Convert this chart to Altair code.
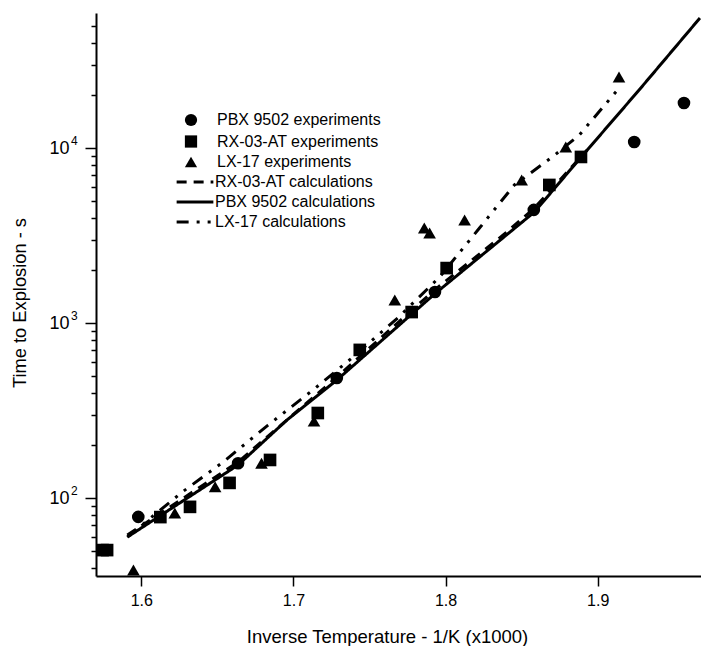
import altair as alt
import pandas as pd

# ---- experiments (points) ----
pbx_exp_x = [1.598, 1.6636, 1.7285, 1.793, 1.858, 1.924, 1.9567]
pbx_exp_y = [78, 158, 485, 1503, 4430, 10820, 18070]

rx_exp_x = [1.5745, 1.5775, 1.6125, 1.632, 1.658, 1.6846, 1.716, 1.7436, 1.7777, 1.8007, 1.8682, 1.889]
rx_exp_y = [50.4, 50.4, 77.8, 89, 122, 165, 306, 702, 1155, 2060, 6150, 8890]

lx_exp_x = [1.5948, 1.622, 1.6485, 1.679, 1.7135, 1.7666, 1.786, 1.7895, 1.8125, 1.850, 1.879, 1.914]
lx_exp_y = [38.8, 82, 116, 158, 275, 1352, 3490, 3265, 3880, 6560, 10140, 25470]

# ---- calculations (lines) ----
rx_calc_x = [1.5908, 1.6636, 1.7285, 1.7928, 1.8387, 1.8584, 1.8931]
rx_calc_y = [61.4, 160.6, 491, 1544, 3226, 4540, 9740]

pbx_calc_x = [1.5908, 1.6636, 1.6957, 1.7285, 1.7928, 1.8584, 1.8892, 1.9272, 1.9672]
pbx_calc_y = [59.8, 154.4, 279, 472, 1466, 4307, 8890, 21450, 55300]

lx_calc_x = [1.5908, 1.6269, 1.6538, 1.6833, 1.7128, 1.7384, 1.7685, 1.7961, 1.8223, 1.8452, 1.8702, 1.8879, 1.9141]
lx_calc_y = [59.8, 108.2, 160.6, 261, 414, 631, 1068, 1832, 3490, 6150, 8890, 11860, 22000]

exp_names = ["PBX 9502 experiments", "RX-03-AT experiments", "LX-17 experiments"]
calc_names = ["RX-03-AT calculations", "PBX 9502 calculations", "LX-17 calculations"]

y_ticks = [40, 50, 60, 70, 80, 90, 100, 200, 300, 400, 500, 600, 700, 800, 900,
           1000, 2000, 3000, 4000, 5000, 6000, 7000, 8000, 9000, 10000,
           20000, 30000, 40000, 50000]
y_major = [100, 1000, 10000]
y_exponents = ["2", "3", "4"]
x_ticks = [1.6, 1.7, 1.8, 1.9]

pts = pd.concat([
    pd.DataFrame({"x": pbx_exp_x, "y": pbx_exp_y, "series": exp_names[0]}),
    pd.DataFrame({"x": rx_exp_x, "y": rx_exp_y, "series": exp_names[1]}),
    pd.DataFrame({"x": lx_exp_x, "y": lx_exp_y, "series": exp_names[2]}),
])
lines = pd.concat([
    pd.DataFrame({"x": rx_calc_x, "y": rx_calc_y, "series": calc_names[0]}),
    pd.DataFrame({"x": pbx_calc_x, "y": pbx_calc_y, "series": calc_names[1]}),
    pd.DataFrame({"x": lx_calc_x, "y": lx_calc_y, "series": calc_names[2]}),
])
expo = pd.DataFrame({"y": y_major, "e": y_exponents})

FONT = "Liberation Sans"
major = "datum.value == 100 || datum.value == 1000 || datum.value == 10000"

xscale = alt.Scale(domain=[1.5702, 1.9679], nice=False, zero=False)
yscale = alt.Scale(type="log", domain=[35.84, 59080], nice=False)

xenc = alt.X("x:Q", scale=xscale, axis=alt.Axis(
    values=x_ticks, format=".1f", title="Inverse Temperature - 1/K (x1000)",
    grid=False, domainColor="black", domainWidth=2, tickColor="black", tickWidth=1.5,
    tickSize=10, labelFontSize=16, labelFont=FONT, labelColor="black", labelPadding=6,
    titleFont=FONT, titleFontSize=18.5, titleFontWeight="normal", titleColor="black",
    titleX=291, titleY=66, titleBaseline="alphabetic", titleAnchor="middle",
    labelFlush=False))
yenc = alt.Y("y:Q", scale=yscale, axis=alt.Axis(
    values=y_ticks,
    labelExpr="(datum.value == 100 || datum.value == 1000 || datum.value == 10000) ? '10' : ''",
    title="Time to Explosion - s", grid=False, domainColor="black", domainWidth=2,
    tickColor="black", tickWidth=1.5,
    tickSize={"condition": {"test": major, "value": 11}, "value": 5},
    labelFontSize=18, labelFont=FONT, labelColor="black", labelPadding=16, labelOverlap=False,
    labelFlush=False,
    titleFont=FONT, titleFontSize=18.3, titleFontWeight="normal", titleColor="black",
    titleX=-71, titleY=289.5, titleBaseline="alphabetic", titleAngle=270, titleAnchor="middle"))

points = alt.Chart(pts).mark_point(filled=True, color="black", opacity=1, clip=True, size=160).encode(
    x=xenc, y=yenc,
    shape=alt.Shape("series:N", title=None,
                    scale=alt.Scale(domain=exp_names, range=["circle", "square", "triangle-up"]),
                    legend=alt.Legend(orient="none", legendX=87, legendY=99, padding=0,
                                      labelFont=FONT, labelFontSize=16, labelColor="black",
                                      labelLimit=0, symbolSize=150, labelOffset=18, rowPadding=1.5,
                                      symbolFillColor="black", symbolStrokeColor="black",
                                      symbolOpacity=1)),
)

line_chart = alt.Chart(lines).mark_line(color="black", strokeWidth=3, clip=True).encode(
    x=xenc, y=yenc,
    strokeDash=alt.StrokeDash("series:N", title=None,
                              scale=alt.Scale(domain=calc_names,
                                              range=[[10, 7], [1, 0], [12, 8, 3, 8, 3, 8]]),
                              legend=alt.Legend(orient="none", legendX=91, legendY=161, padding=0,
                                                labelFont=FONT, labelFontSize=16, labelColor="black",
                                                labelLimit=0,
                                                symbolType="M-3,0H3", symbolSize=150,
                                                symbolStrokeWidth=3, symbolStrokeColor="black",
                                                labelOffset=12, rowPadding=4)),
)

exp_text = alt.Chart(expo).mark_text(font=FONT, fontSize=12, color="black", align="left",
                                     baseline="middle", dy=-7).encode(
    x=alt.value(-25), y=alt.Y("y:Q", scale=yscale), text="e:N")

chart = alt.layer(line_chart, points, exp_text).properties(
    width=605, height=563,
    autosize=alt.AutoSizeParams(type="none"),
    padding={"left": 96, "top": 13, "right": 0, "bottom": 70},
    background="white",
).configure_view(stroke=None)

chart.save("out.html", embed_options={"renderer": "svg", "actions": False})
